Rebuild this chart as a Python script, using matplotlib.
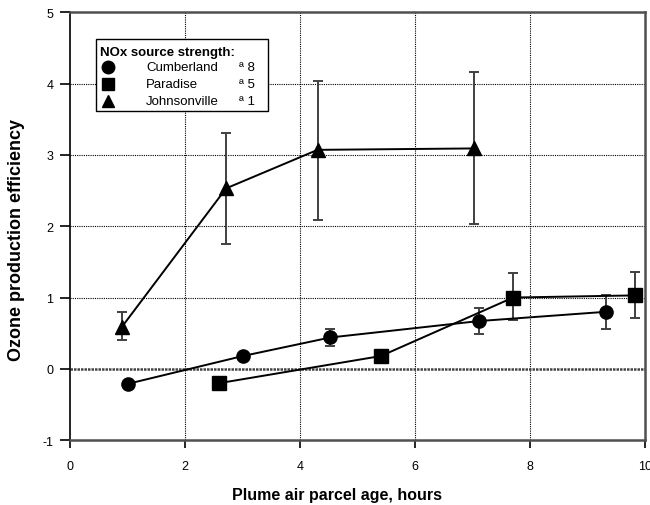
import numpy as np
import matplotlib.pyplot as plt
from matplotlib.patches import Rectangle

plt.rcParams['font.family'] = ['Liberation Sans', 'DejaVu Sans']
plt.rcParams['axes.unicode_minus'] = False

# Cumberland (circles)
cum_x = [1.0, 3.0, 4.52, 7.1, 9.31]
cum_y = [-0.21, 0.18, 0.44, 0.67, 0.80]
cum_lo = [None, None, 0.32, 0.49, 0.56]
cum_hi = [None, None, 0.56, 0.85, 1.04]

# Paradise (squares)
par_x = [2.59, 5.4, 7.7, 9.81]
par_y = [-0.20, 0.18, 1.0, 1.03]
par_lo = [None, 0.08, 0.69, 0.71]
par_hi = [None, 0.27, 1.34, 1.36]

# Johnsonville (triangles)
joh_x = [0.9, 2.71, 4.3, 7.02]
joh_y = [0.59, 2.53, 3.07, 3.09]
joh_lo = [0.40, 1.75, 2.08, 2.03]
joh_hi = [0.80, 3.30, 4.04, 4.16]

names = ['Cumberland', 'Paradise', 'Johnsonville']
strengths = ['\u00aa 8', '\u00aa 5', '\u00aa 1']
markers = ['o', 's', '^']

fig = plt.figure(figsize=(6.5, 5.06), dpi=100)
ax = fig.add_axes([0.108, 0.128, 0.885, 0.846])

ax.set_xlim(0, 10)
ax.set_ylim(-1, 5)

for v in [2, 4, 6, 8]:
    ax.axvline(v, color='black', lw=0.8, ls=(0, (1, 1)), zorder=1)
for v in [1, 2, 3, 4]:
    ax.axhline(v, color='black', lw=0.8, ls=(0, (1, 1)), zorder=1)
ax.axhline(0, color='#444444', lw=1.8, ls=(0, (1, 0.4)), zorder=1)


def draw(xs, ys, lo, hi, mk, ms):
    ax.plot(xs, ys, color='black', lw=1.4, marker=mk, ms=ms, zorder=4)
    ex, ey, el, eh = [], [], [], []
    for x, y, l, h in zip(xs, ys, lo, hi):
        if l is None:
            continue
        ex.append(x); ey.append(y); el.append(y - l); eh.append(h - y)
    ax.errorbar(ex, ey, yerr=[el, eh], fmt='none', ecolor='#404040',
                elinewidth=1.4, capsize=3.5, capthick=1.4, zorder=3)


draw(cum_x, cum_y, cum_lo, cum_hi, 'o', 9.5)
draw(par_x, par_y, par_lo, par_hi, 's', 9.5)
draw(joh_x, joh_y, joh_lo, joh_hi, '^', 9.5)

ax.set_xticks([0, 2, 4, 6, 8, 10])
ax.set_yticks([-1, 0, 1, 2, 3, 4, 5])
ax.tick_params(axis='both', direction='out', labelsize=9, width=1.2)
ax.tick_params(axis='x', length=6, pad=8)
ax.tick_params(axis='y', length=7, pad=5)

ax.spines['left'].set_color('black')
ax.spines['left'].set_linewidth(1.2)
for s in ['top', 'right', 'bottom']:
    ax.spines[s].set_color('#505050')
    ax.spines[s].set_linewidth(1.8)

ax.set_xlabel('Plume air parcel age, hours', fontsize=11.5, fontweight='bold', va='center')
ax.xaxis.set_label_coords(0.464, -0.126)
ax.set_ylabel('Ozone production efficiency', fontsize=13, fontweight='bold', va='center')
ax.yaxis.set_label_coords(-0.094, 0.47)

# legend box
ax.add_patch(Rectangle((0.045, 0.769), 0.299, 0.168, transform=ax.transAxes,
                       facecolor='white', edgecolor='black', lw=1.0, zorder=5))
ax.text(0.052, 0.907, 'NOx source strength:', transform=ax.transAxes,
        fontsize=9.5, fontweight='bold', va='center', ha='left', zorder=6)
rows = [0.872, 0.832, 0.792]
for mk, nm, st, ry in zip(markers, names, strengths, rows):
    ax.plot([0.066], [ry], marker=mk, color='black', ms=9, ls='none',
            transform=ax.transAxes, zorder=6, clip_on=False)
    ax.text(0.132, ry, nm, transform=ax.transAxes, fontsize=9.5,
            va='center', ha='left', zorder=6)
    ax.text(0.293, ry, st, transform=ax.transAxes, fontsize=9.5,
            va='center', ha='left', zorder=6)

fig.savefig('out.png', dpi=100)
